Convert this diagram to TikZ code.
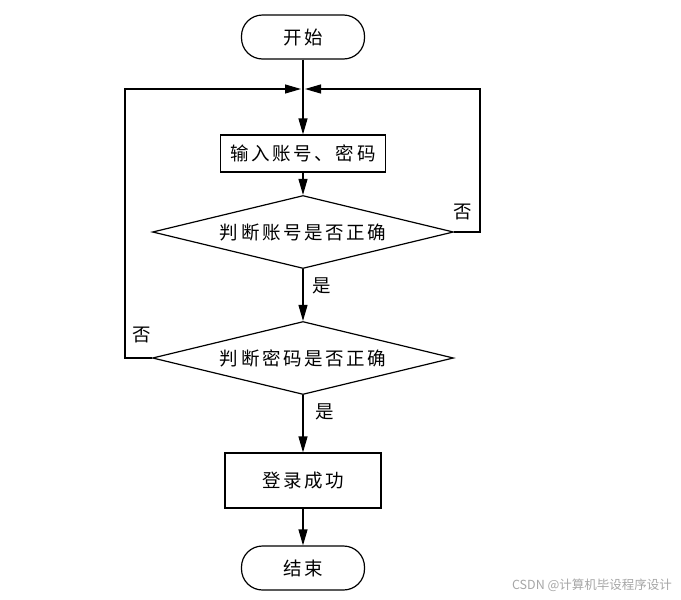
\documentclass[tikz,border=0pt]{standalone}
\usepackage{fontspec}
\setmainfont{Liberation Sans}
\newfontfamily\cjk[LetterSpace=14]{Noto Sans CJK SC}
\newfontfamily\cjkplain{Noto Sans CJK SC}
\usetikzlibrary{shapes.geometric,arrows.meta}
\begin{document}
\begin{tikzpicture}[x=1pt,y=-1pt,
  line width=1.2pt,
  >={Triangle[length=16pt,width=9pt]},
  every node/.style={font=\cjk\fontsize{18.5}{20}\selectfont},
  term/.style={draw,rectangle,rounded corners=21pt,minimum width=123pt,minimum height=44pt,inner sep=0pt},
  proc/.style={draw,rectangle,inner sep=0pt},
  dec/.style={draw,diamond,aspect=4,inner sep=0pt,minimum width=301pt,minimum height=73pt},
  lab/.style={inner sep=0pt}]
\useasboundingbox (0,0) rectangle (681,600);
\node[term] (start) at (303,37) {开始};
\coordinate (m) at (303,89);
\coordinate (mL) at (301,89);
\coordinate (mR) at (305,89);
\node[proc,minimum width=165pt,minimum height=37pt] (inp) at (303,153.5) {输入账号、密码};
\node[dec] (d1) at (303,232) {判断账号是否正确};
\node[dec] (d2) at (303,358) {判断密码是否正确};
\node[proc,minimum width=156pt,minimum height=55pt] (ok) at (303,480.5) {登录成功};
\node[term] (end) at (303,568) {结束};
\draw[->] (start.south) -- (inp.north);
\draw[->] (inp.south) -- (d1.north);
\draw[->] (d1.south) -- node[lab,right=9pt,pos=0.33] (y1) {是} (d2.north);
\draw[->] (d2.south) -- node[lab,right=12pt,pos=0.3] (y2) {是} (ok.north);
\draw[->] (ok.south) -- (end.north);
\draw[->] (d1.east) -- (480,232) |- (mR);
\draw[->] (d2.west) -- (125,358) |- (mL);
\node[lab] (n1) at (463,212) {否};
\node[lab] (n2) at (142,335) {否};
\node[lab,text=black!35,font=\cjkplain\fontsize{12.5}{14}\selectfont] (wm) at (592,585) {CSDN @计算机毕设程序设计};
\end{tikzpicture}
\end{document}
